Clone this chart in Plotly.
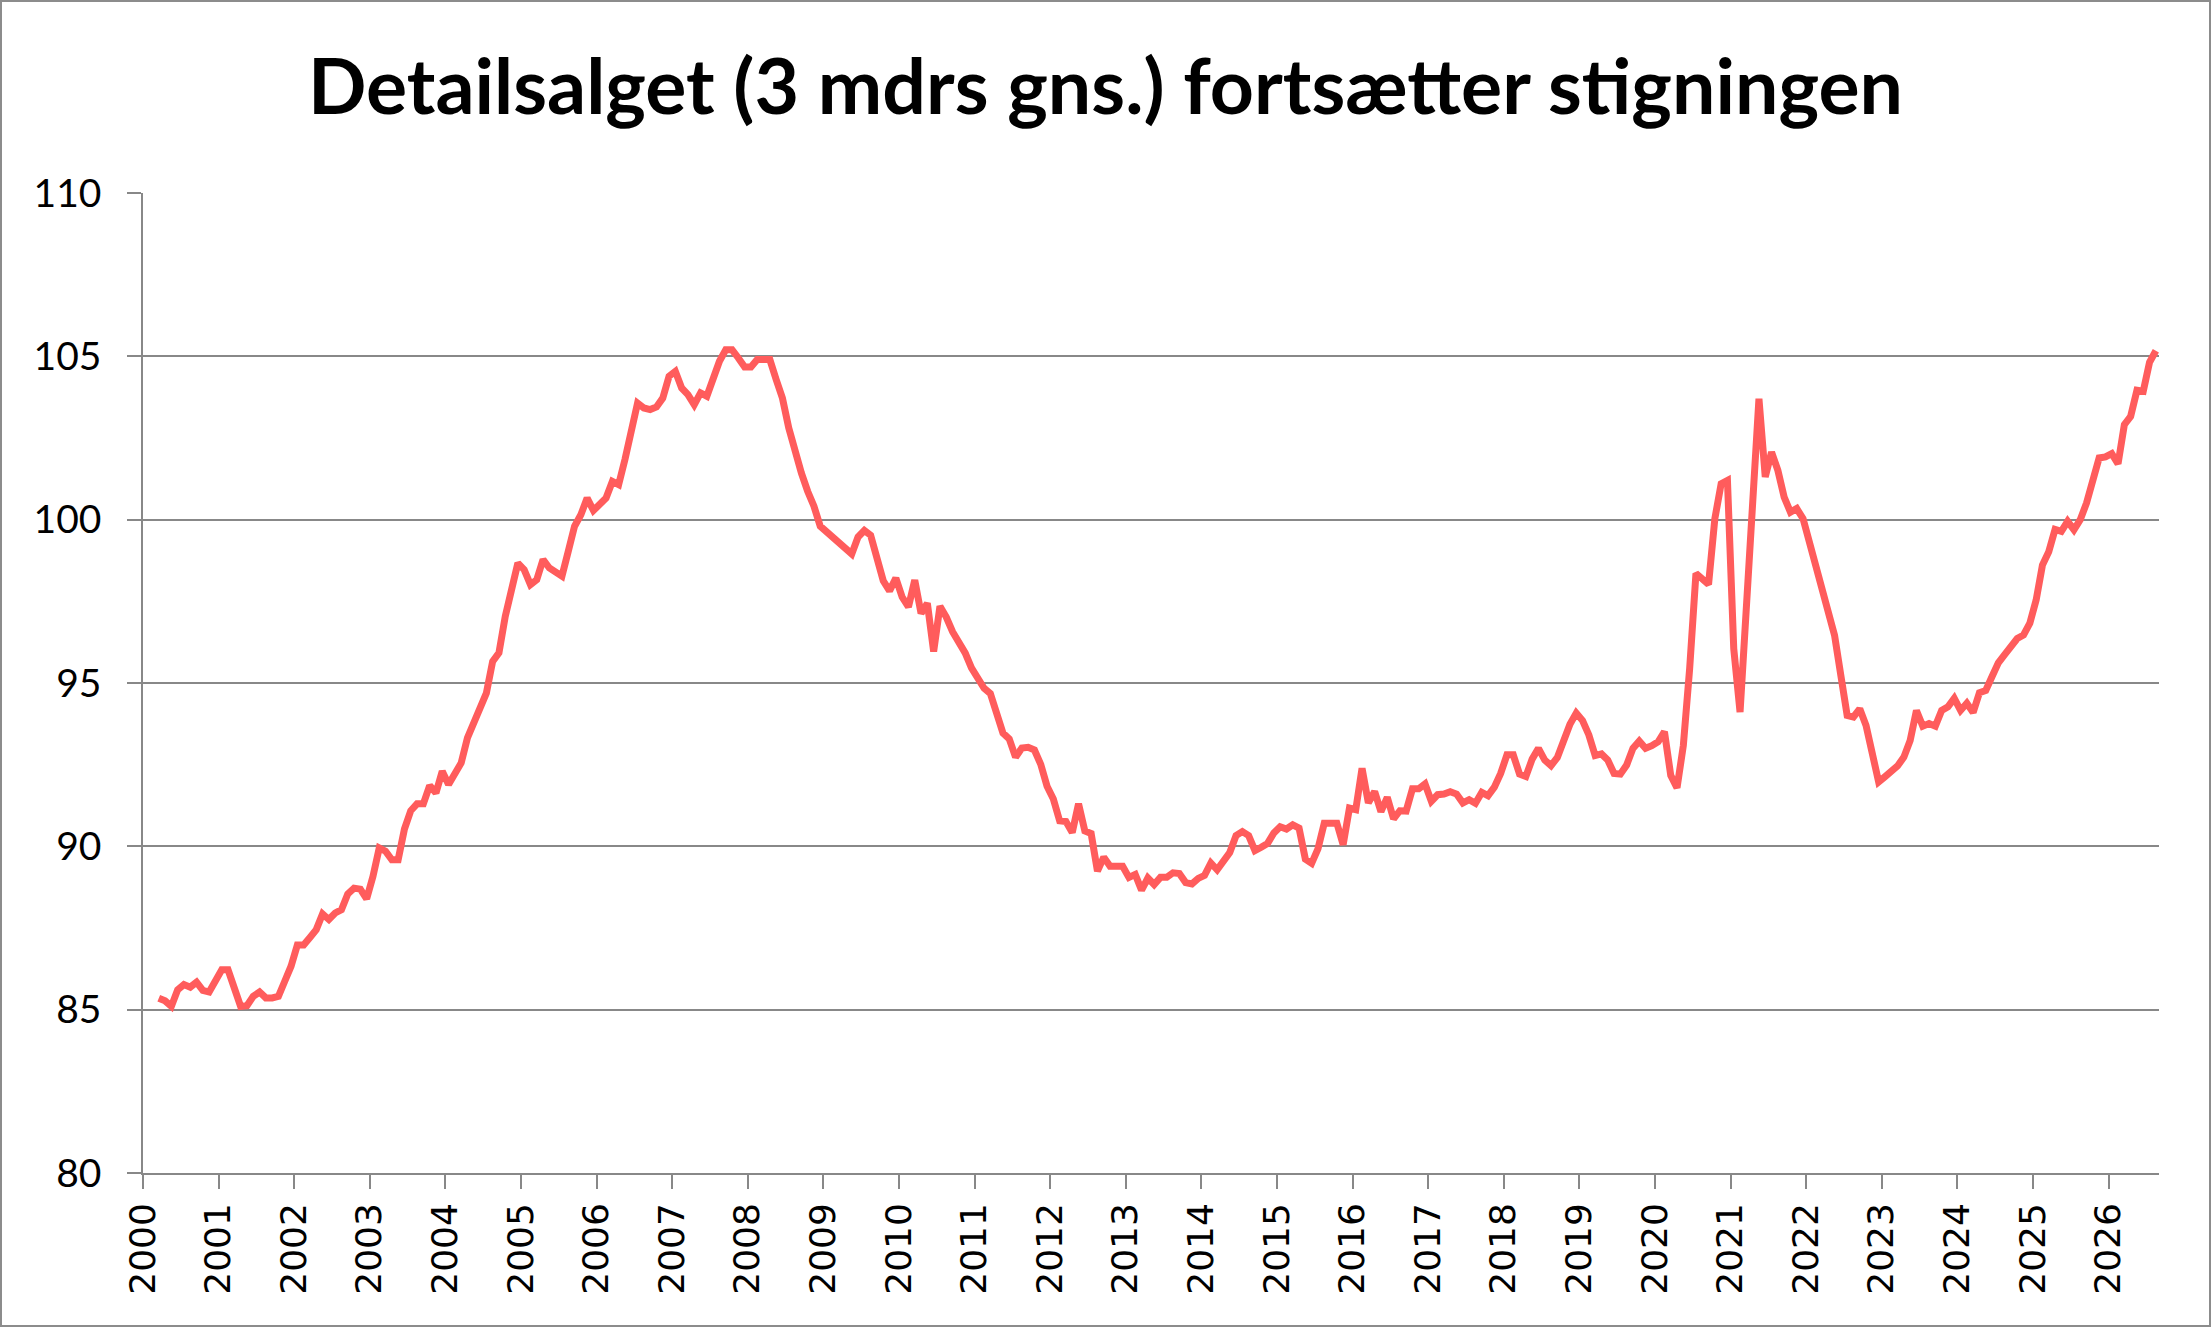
import plotly.graph_objects as go

# ---- data (3-month average retail sales index, monthly, first value = March 2000) ----
first_month_index = 2  # months after Jan 2000
values = [
    85.35, 85.27, 85.10, 85.61, 85.77, 85.69, 85.84, 85.59, 85.54, 85.92,  # 2000 Mar-Dec
    86.22, 86.22, 85.59, 85.10, 85.12, 85.41, 85.54, 85.36, 85.36, 85.41, 85.87, 86.33,  # 2001
    86.98, 86.98, 87.21, 87.45, 87.93, 87.76, 87.96, 88.06, 88.54, 88.72, 88.69, 88.39,  # 2002
    89.08, 89.95, 89.85, 89.59, 89.59, 90.53, 91.09, 91.30, 91.30, 91.86, 91.63, 92.30,  # 2003
    91.89, 92.24, 92.55, 93.32, 93.78, 94.34, 94.69, 95.66, 95.92, 97.04, 97.96, 98.67,  # 2004
    98.47, 98.01, 98.16, 98.78, 98.52, 98.39, 98.27, 99.03, 99.80, 100.15, 100.66, 100.28,  # 2005
    100.46, 100.66, 101.17, 101.07, 101.84, 102.70, 103.57, 103.42, 103.37, 103.45, 103.72, 104.39,  # 2006
    104.54, 104.03, 103.83, 103.52, 103.88, 103.78, 104.39, 104.85, 105.20, 105.20, 104.95, 104.67,  # 2007
    104.67, 104.90, 104.90, 104.90, 104.29, 103.72, 102.81, 102.04, 101.43, 100.87, 100.41, 99.80,  # 2008
    99.64, 99.44, 99.26, 99.13, 98.95, 99.47, 99.67, 99.52, 98.74, 98.13, 97.82, 98.21,  # 2009
    97.63, 97.33, 98.15, 97.13, 97.44, 95.96, 97.35, 97.02, 96.57, 96.26, 95.92, 95.46,  # 2010
    95.18, 94.84, 94.68, 94.14, 93.47, 93.29, 92.73, 93.01, 93.03, 92.95, 92.51, 91.84,  # 2011
    91.45, 90.78, 90.76, 90.42, 91.30, 90.47, 90.39, 89.24, 89.67, 89.39, 89.39, 89.39,  # 2012
    89.05, 89.14, 88.66, 89.03, 88.83, 89.05, 89.05, 89.19, 89.17, 88.89, 88.85, 89.02,  # 2013
    89.11, 89.49, 89.28, 89.53, 89.81, 90.33, 90.45, 90.33, 89.87, 89.97, 90.09, 90.41,  # 2014
    90.60, 90.53, 90.66, 90.56, 89.61, 89.48, 89.92, 90.71, 90.70, 90.71, 90.05, 91.17,  # 2015
    91.12, 92.39, 91.33, 91.68, 91.06, 91.50, 90.84, 91.09, 91.08, 91.76, 91.76, 91.91,  # 2016
    91.38, 91.58, 91.60, 91.67, 91.60, 91.33, 91.43, 91.32, 91.65, 91.55, 91.81, 92.23,  # 2017
    92.80, 92.80, 92.21, 92.14, 92.67, 93.00, 92.64, 92.47, 92.72, 93.29, 93.74, 94.08,  # 2018
    93.85, 93.41, 92.78, 92.83, 92.64, 92.23, 92.21, 92.49, 93.00, 93.22, 93.00, 93.08,  # 2019
    93.20, 93.51, 92.17, 91.79, 93.09, 95.44, 98.35, 98.19, 98.02, 100.03, 101.10, 101.20,  # 2020
    96.05, 94.11, 97.31, 100.50, 103.70, 101.31, 102.07, 101.51, 100.69, 100.23, 100.34, 100.03,  # 2021
    99.32, 98.55, 97.84, 97.17, 96.46, 95.23, 94.01, 93.96, 94.21, 93.70, 92.89, 91.97,  # 2022
    92.13, 92.28, 92.46, 92.73, 93.24, 94.16, 93.68, 93.76, 93.68, 94.16, 94.27, 94.53,  # 2023
    94.16, 94.38, 94.10, 94.70, 94.77, 95.20, 95.62, 95.87, 96.15, 96.36, 96.47, 96.83,  # 2024
    97.54, 98.61, 99.02, 99.70, 99.64, 99.95, 99.69, 100.00, 100.51, 101.17, 101.89, 101.92,  # 2025
    102.02, 101.71, 102.91, 103.16, 103.96, 103.93, 104.82, 105.17,  # 2026 Jan-Aug
]
year_labels = [str(y) for y in range(2000, 2027)]
y_ticks = [80, 85, 90, 95, 100, 105, 110]
title_text = "Detailsalget (3 mdrs gns.) fortsætter stigningen"

# ---- geometry ----
W, H = 2211, 1327
ML, MR, MT, MB = 143, 52, 193, 154
n_months_axis = 12 * (len(year_labels) - 1) + 8  # axis spans to end of Aug 2026

x = [first_month_index + i + 0.5 for i in range(len(values))]
tickvals = [12 * i for i in range(len(year_labels))]

GRID = "#888888"
LINE = "#FF5C5C"

fig = go.Figure()
fig.add_trace(go.Scatter(
    x=x, y=values, mode="lines",
    line=dict(color=LINE, width=7),
    hoverinfo="skip", showlegend=False,
))

pw = W - ML - MR
ph = H - MT - MB
fig.update_layout(
    width=W, height=H,
    margin=dict(l=ML, r=MR, t=MT, b=MB, pad=0),
    paper_bgcolor="white", plot_bgcolor="white",
    title=dict(
        text=title_text, x=0.5, xanchor="center", xref="container",
        yref="container", y=1 - 87.5 / H, yanchor="middle",
        font=dict(family="Lato", size=77, color="black", weight="bold"),
    ),
    xaxis=dict(
        range=[0, n_months_axis], tickmode="array", tickvals=tickvals, ticktext=year_labels,
        tickangle=-90, showgrid=False, zeroline=False,
        showline=True, linecolor=GRID, linewidth=1.5,
        ticks="outside", ticklen=14, tickwidth=1.5, tickcolor=GRID,
        tickfont=dict(family="DejaVu Sans", size=36, color="black"),
        fixedrange=True,
    ),
    yaxis=dict(
        range=[80, 110], tickmode="array", tickvals=y_ticks,
        showgrid=True, gridcolor=GRID, gridwidth=1.5, zeroline=False,
        showline=True, linecolor=GRID, linewidth=1.5,
        ticks="outside", ticklen=14, tickwidth=1.5, tickcolor=GRID,
        tickfont=dict(family="Lato", size=39, color="black"),
        ticklabelstandoff=18,
        fixedrange=True,
    ),
    shapes=[dict(
        type="rect", xref="paper", yref="paper",
        x0=(1 - ML) / pw, x1=(W - 1 - ML) / pw,
        y0=-(MB - 1) / ph, y1=1 + (MT - 1) / ph,
        line=dict(color="#8C8C8C", width=2), fillcolor="rgba(0,0,0,0)", layer="above",
    )],
)

fig.write_html("out.html", config={"displayModeBar": False},
               post_script="document.body.style.margin='0';document.body.style.overflow='hidden';")
